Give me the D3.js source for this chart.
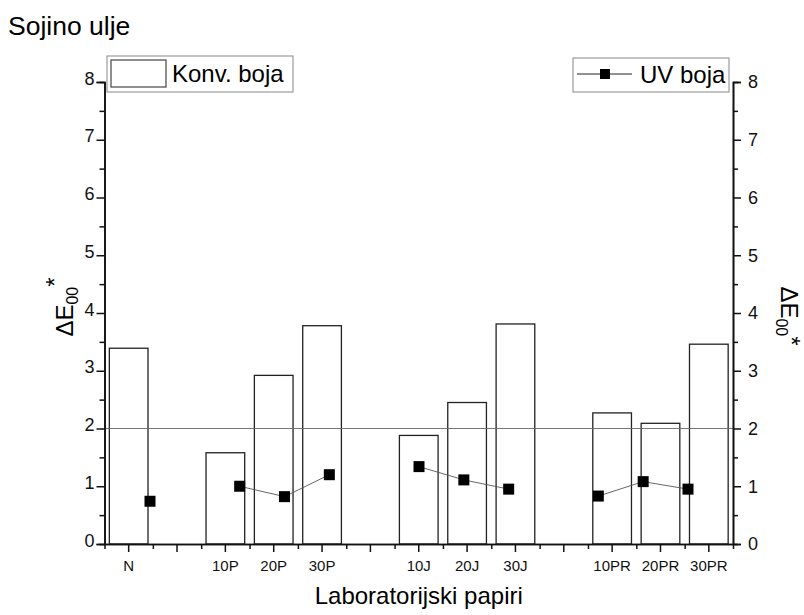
<!DOCTYPE html>
<html lang="sr">
<head>
<meta charset="UTF-8">
<title>Sojino ulje</title>
<script src="https://d3js.org/d3.v7.min.js"></script>
<style>
  body { margin: 0; background: #fff; }
  svg { display: block; font-family: "Liberation Sans", Arial, sans-serif; }
</style>
</head>
<body>
<svg width="804" height="615" id="canvas"></svg>
<script>
// data
const categories = ["N", "", "10P", "20P", "30P", "", "10J", "20J", "30J", "", "10PR", "20PR", "30PR"];
const konvBoja = [3.39, null, 1.58, 2.92, 3.78, null, 1.88, 2.45, 3.81, null, 2.27, 2.09, 3.46];
const uvBoja = [0.74, null, 1.0, 0.82, 1.2, null, 1.34, 1.11, 0.95, null, 0.83, 1.08, 0.95];
const yTicks = [0, 1, 2, 3, 4, 5, 6, 7, 8];
const limitValue = 2;

const svg = d3.select("svg");
const plotL = 104.5, plotR = 733, plotT = 82, plotB = 544;

const x = d3.scaleBand()
    .domain(d3.range(categories.length))
    .range([plotL, plotR])
    .paddingInner(0.2)
    .paddingOuter(0.1);
// the line plot sits on its own, slightly narrower x range
const xLine = d3.scaleLinear().domain([0, categories.length - 1]).range([150, 688]);
const y = d3.scaleLinear().domain([0, 8]).range([plotB, plotT]);

// title
svg.append("text").attr("x", 8).attr("y", 35)
    .attr("font-size", 26.5).text("Sojino ulje");

// bars
svg.append("g").selectAll("rect")
    .data(konvBoja.map((v, i) => ({v, i})).filter(d => d.v != null))
    .join("rect")
    .attr("x", d => x(d.i))
    .attr("y", d => y(d.v))
    .attr("width", x.bandwidth())
    .attr("height", d => y(0) - y(d.v))
    .attr("fill", "#fff")
    .attr("stroke", "#222")
    .attr("stroke-width", 1.3);

// reference line at 2
svg.append("line")
    .attr("x1", plotL).attr("x2", plotR)
    .attr("y1", y(limitValue)).attr("y2", y(limitValue))
    .attr("stroke", "#666").attr("stroke-width", 0.9);

// UV line + markers
const line = d3.line()
    .defined(d => d != null)
    .x((d, i) => xLine(i))
    .y(d => y(d));
svg.append("path")
    .attr("d", line(uvBoja))
    .attr("fill", "none")
    .attr("stroke", "#555")
    .attr("stroke-width", 0.9);
svg.append("g").selectAll("rect")
    .data(uvBoja.map((v, i) => ({v, i})).filter(d => d.v != null))
    .join("rect")
    .attr("x", d => xLine(d.i) - 5.5)
    .attr("y", d => y(d.v) - 5.5)
    .attr("width", 11).attr("height", 11)
    .attr("fill", "#000");

// axes
function styleAxis(g) {
    g.select(".domain").attr("stroke", "#111").attr("stroke-width", 1.6);
    g.selectAll(".tick line").attr("stroke", "#111").attr("stroke-width", 1.5);
    g.selectAll("text").attr("fill", "#111").attr("font-family", null);
}

const halfTicks = d3.range(0.5, 8, 1);

svg.append("g")
    .attr("transform", `translate(${plotL},0)`)
    .call(d3.axisLeft(y).tickValues(yTicks).tickSize(8).tickPadding(2).tickFormat(d3.format("d")))
    .call(g => g.selectAll("text").attr("font-size", 18).attr("dy", 2))
    .call(styleAxis);
svg.append("g")
    .attr("transform", `translate(${plotL},0)`)
    .call(d3.axisLeft(y).tickValues(halfTicks).tickSize(5).tickFormat(""))
    .call(styleAxis);

svg.append("g")
    .attr("transform", `translate(${plotR},0)`)
    .call(d3.axisRight(y).tickValues(yTicks).tickSize(8).tickPadding(7).tickFormat(d3.format("d")))
    .call(g => g.selectAll("text").attr("font-size", 18))
    .call(styleAxis);
svg.append("g")
    .attr("transform", `translate(${plotR},0)`)
    .call(d3.axisRight(y).tickValues(halfTicks).tickSize(5).tickFormat(""))
    .call(styleAxis);

svg.append("g")
    .attr("transform", `translate(0,${plotB})`)
    .call(d3.axisBottom(x).tickSize(8).tickPadding(8).tickSizeOuter(0).tickFormat(i => categories[i]))
    .call(g => g.selectAll("text").attr("font-size", 15))
    .call(styleAxis);
const xMinor = d3.scaleLinear().domain([0, categories.length]).range([plotL, plotR]);
svg.append("g")
    .attr("transform", `translate(0,${plotB})`)
    .call(d3.axisBottom(xMinor).tickValues(d3.range(0, categories.length + 1)).tickSize(5).tickSizeOuter(0).tickFormat(""))
    .call(styleAxis);

// axis titles
svg.append("text")
    .attr("x", (plotL + plotR) / 2).attr("y", 604)
    .attr("text-anchor", "middle").attr("font-size", 24)
    .text("Laboratorijski papiri");

function deltaTitle(g, starShift) {
    const t = g.append("text").attr("font-size", 24).attr("text-anchor", "middle");
    t.append("tspan").text("\u0394E");
    t.append("tspan").attr("font-size", 16).attr("dy", 5).text("00");
    t.append("tspan").attr("dy", starShift).text("*");
}
deltaTitle(svg.append("g").attr("transform", "translate(73,307) rotate(-90)"), -15);
deltaTitle(svg.append("g").attr("transform", "translate(781,316) rotate(90)"), -7);

// legends
const legL = svg.append("g");
legL.append("rect").attr("x", 107).attr("y", 56).attr("width", 186).attr("height", 36)
    .attr("fill", "#fff").attr("stroke", "#888").attr("stroke-width", 1);
legL.append("rect").attr("x", 111).attr("y", 60).attr("width", 55).attr("height", 27)
    .attr("fill", "#fff").attr("stroke", "#444").attr("stroke-width", 1.2);
legL.append("text").attr("x", 172).attr("y", 82).attr("font-size", 24).text("Konv. boja");

const legR = svg.append("g");
legR.append("rect").attr("x", 573).attr("y", 58).attr("width", 156).attr("height", 34)
    .attr("fill", "#fff").attr("stroke", "#888").attr("stroke-width", 1);
legR.append("line").attr("x1", 577).attr("x2", 632).attr("y1", 74).attr("y2", 74)
    .attr("stroke", "#222").attr("stroke-width", 1);
legR.append("rect").attr("x", 600).attr("y", 69).attr("width", 10).attr("height", 10).attr("fill", "#000");
legR.append("text").attr("x", 640).attr("y", 83).attr("font-size", 24).text("UV boja");
</script>
</body>
</html>
